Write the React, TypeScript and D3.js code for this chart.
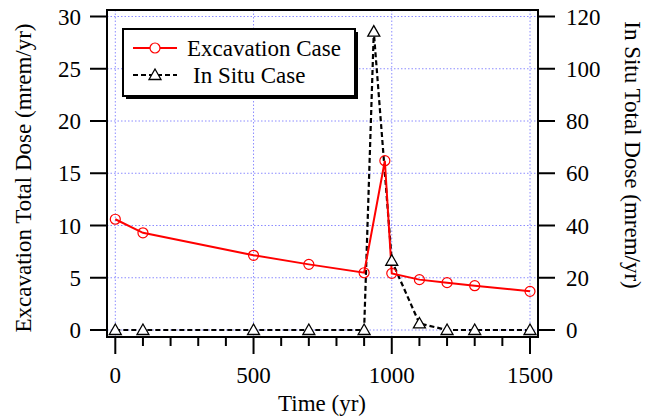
import React from "react";
import * as d3 from "d3";

const excTime = [0, 100, 500, 700, 900, 975, 1000, 1100, 1200, 1300, 1500];
const excDose = [10.6, 9.3, 7.15, 6.28, 5.48, 16.2, 5.42, 4.82, 4.53, 4.24, 3.7];
const situTime = [0, 100, 500, 700, 900, 935, 1000, 1100, 1200, 1300, 1500];
const situDose = [0, 0, 0, 0, 0, 114.2, 26.5, 2.5, 0, 0, 0];
const xTicks = [0, 500, 1000, 1500];
const xMinor = d3.range(0, 1501, 100);
const yLeftTicks = [0, 5, 10, 15, 20, 25, 30];
const yRightTicks = [0, 20, 40, 60, 80, 100, 120];

const FONT = '"Liberation Serif", "Times New Roman", Times, "DejaVu Serif", serif';

export default function App() {
  const x = d3.scaleLinear().domain([0, 1500]).range([115.3, 530]);
  const yL = d3.scaleLinear().domain([0, 30]).range([330, 16.5]);
  const yR = d3.scaleLinear().domain([0, 120]).range([330, 16.5]);
  const frame = { x0: 107, x1: 538, y0: 10, y1: 337 };

  const excLine = d3.line<number>().x((_, i) => x(excTime[i])).y((d) => yL(d));
  const situLine = d3.line<number>().x((_, i) => x(situTime[i])).y((d) => yR(d));
  const tri = (cx: number, cy: number, s = 6) =>
    `M${cx},${cy - s} L${cx + s},${cy + s * 0.75} L${cx - s},${cy + s * 0.75} Z`;

  const grid = "#8c8cff";
  const ts = { fontFamily: FONT, fontSize: 23 } as React.CSSProperties;
  return (
    <svg width={657} height={417} style={{ position: "absolute", left: 0, top: 0, background: "white", fontFamily: FONT }}>
      {/* grid */}
      {xTicks.map((t) => (
        <line key={"gx" + t} x1={x(t)} x2={x(t)} y1={frame.y0} y2={frame.y1} stroke={grid} strokeWidth={1} strokeDasharray="1.5,2" />
      ))}
      {yLeftTicks.map((t) => (
        <line key={"gy" + t} x1={frame.x0} x2={frame.x1} y1={yL(t)} y2={yL(t)} stroke={grid} strokeWidth={1} strokeDasharray="1.5,2" />
      ))}
      {/* frame */}
      <rect x={frame.x0} y={frame.y0} width={frame.x1 - frame.x0} height={frame.y1 - frame.y0} fill="none" stroke="black" strokeWidth={2} />
      {/* left ticks */}
      {yLeftTicks.map((t) => (
        <g key={"yl" + t}>
          <line x1={90} x2={frame.x0} y1={yL(t)} y2={yL(t)} stroke="black" strokeWidth={2} />
          <text x={81} y={yL(t)} dy="0.35em" textAnchor="end" style={ts}>{t}</text>
        </g>
      ))}
      {yRightTicks.map((t) => (
        <g key={"yr" + t}>
          <line x1={frame.x1} x2={555} y1={yR(t)} y2={yR(t)} stroke="black" strokeWidth={2} />
          <text x={566} y={yR(t)} dy="0.35em" textAnchor="start" style={ts}>{t}</text>
        </g>
      ))}
      {xMinor.map((t) => (
        <line key={"xm" + t} x1={x(t)} x2={x(t)} y1={frame.y1} y2={t % 500 === 0 ? 354 : 346} stroke="black" strokeWidth={2} />
      ))}
      {xTicks.map((t) => (
        <text key={"xl" + t} x={x(t)} y={383} textAnchor="middle" style={ts}>{t}</text>
      ))}
      <text x={322} y={411} textAnchor="middle" style={ts}>Time (yr)</text>
      <text transform="translate(31,178) rotate(-90)" textAnchor="middle" style={ts}>Excavation Total Dose (mrem/yr)</text>
      <text transform="translate(625,155) rotate(90)" textAnchor="middle" style={ts}>In Situ Total Dose (mrem/yr)</text>

      {/* series */}
      <path d={situLine(situDose) || ""} fill="none" stroke="black" strokeWidth={2.2} strokeDasharray="5,3" />
      <path d={excLine(excDose) || ""} fill="none" stroke="#ff0000" strokeWidth={2} />
      {excDose.map((d, i) => (
        <circle key={"c" + i} cx={x(excTime[i])} cy={yL(d)} r={5} fill="none" stroke="#ff0000" strokeWidth={1.2} />
      ))}
      {situDose.map((d, i) => (
        <path key={"t" + i} d={tri(x(situTime[i]), yR(d))} fill="white" stroke="black" strokeWidth={1.3} />
      ))}

      {/* legend */}
      <rect x={126} y={32} width={232} height={67} fill="black" />
      <rect x={123} y={29} width={232} height={67} fill="white" stroke="black" strokeWidth={2} />
      <line x1={133} x2={177} y1={48} y2={48} stroke="#ff0000" strokeWidth={2} />
      <circle cx={155} cy={48} r={5} fill="white" stroke="#ff0000" strokeWidth={1.2} />
      <text x={187} y={56} style={ts}>Excavation Case</text>
      <line x1={133} x2={177} y1={75} y2={75} stroke="black" strokeWidth={2} strokeDasharray="5,3" />
      <path d={tri(155, 75)} fill="white" stroke="black" strokeWidth={1.3} />
      <text x={193} y={83} style={ts}>In Situ Case</text>
    </svg>
  );
}
